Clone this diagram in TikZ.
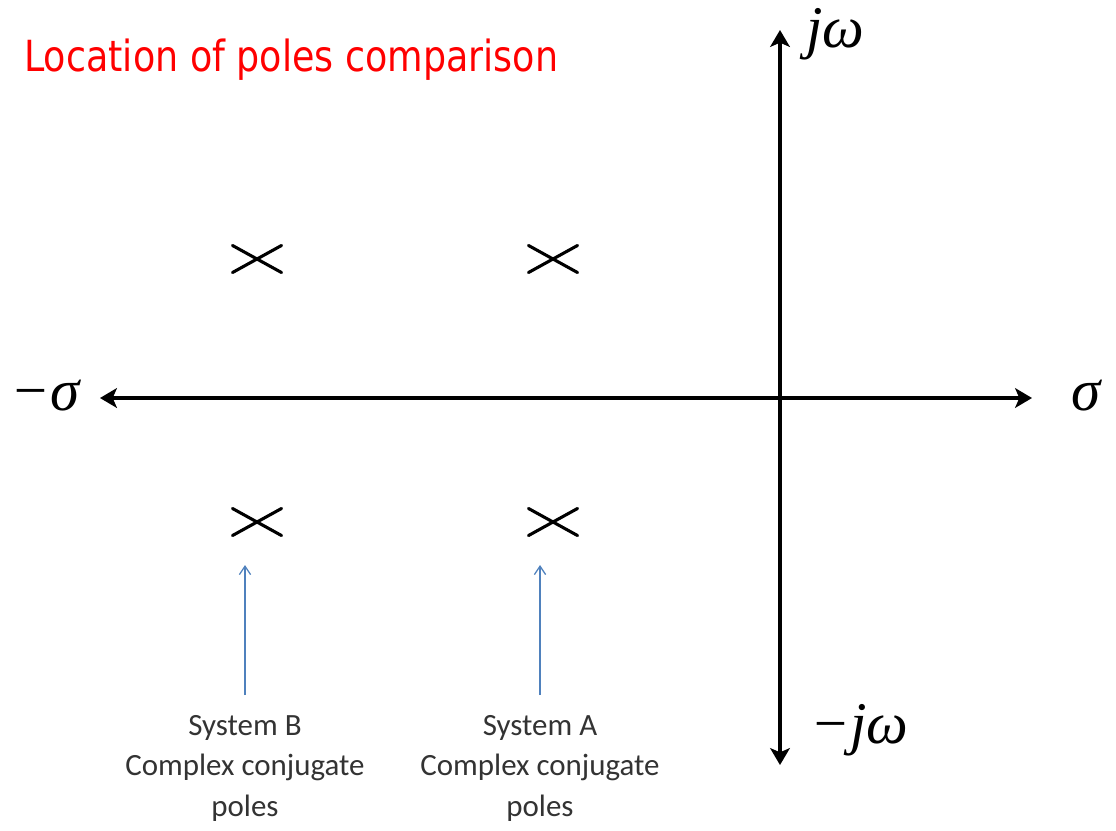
\documentclass[tikz,border=0pt]{standalone}
\usepackage{fontspec}
\setmainfont{Carlito}
\newfontfamily\titlefont{DejaVu Sans}[FakeStretch=0.85]
\newfontfamily\axisfont{Liberation Serif}
\usetikzlibrary{arrows.meta,positioning,shapes.misc}
\definecolor{pointerblue}{RGB}{79,129,189}
\tikzset{
  axis/.style={line width=2.4pt,
               {Stealth[length=12pt,width=14pt,inset=3pt]}-{Stealth[length=12pt,width=14pt,inset=3pt]}},
  axislabel/.style={inner sep=0pt, font=\axisfont\itshape\fontsize{42}{42}\selectfont},
  pole/.style={cross out, draw, line width=2.2pt, line cap=round,
               minimum width=1.15cm, minimum height=0.6cm, inner sep=0pt},
  caption/.style={align=center, inner xsep=0pt, inner ysep=14pt, text=black!80,
                  font=\fontsize{22}{29}\selectfont},
  pointer/.style={-{Straight Barb[length=6pt,width=8pt]}, line width=0.9pt, draw=pointerblue}
}

\begin{document}
\begin{tikzpicture}[x=0.025cm, y=-0.025cm]
  \useasboundingbox (0,0) rectangle (1116,830);
  \node[anchor=base west, inner sep=0pt, text=red,
        font=\titlefont\fontsize{30.5}{36}\selectfont] (title) at (24,71)
    {Location of poles comparison};

  \coordinate (xneg) at (100,398);
  \coordinate (xpos) at (1032,398);
  \coordinate (ypos) at (780,30);
  \coordinate (yneg) at (780,765);
  \draw[axis] (xneg) -- (xpos);
  \draw[axis] (ypos) -- (yneg);

  \node[axislabel, anchor=base east] (signeg) at (80,410) {−σ};
  \node[axislabel, anchor=base west] (sigpos) at (1071,410) {σ};
  \node[axislabel, anchor=base west] (omgpos) at (806,47) {jω};
  \node[axislabel, anchor=base west] (omgneg) at (810,743) {−jω};

  \node[pole] (poleB1) at (257,259) {};
  \node[pole] (poleA1) at (553,259) {};
  \node[pole] (poleB2) at (257,522) {};
  \node[pole] (poleA2) at (553,522) {};

  \node[caption, anchor=north] (sysB) at (245,695) {System B\\Complex conjugate\\poles};
  \node[caption, anchor=north] (sysA) at (540,695) {System A\\Complex conjugate\\poles};
  \coordinate (tipB) at (245,565);
  \coordinate (tipA) at (540,565);
  \draw[pointer] (sysB) -- (tipB);
  \draw[pointer] (sysA) -- (tipA);
\end{tikzpicture}
\end{document}
